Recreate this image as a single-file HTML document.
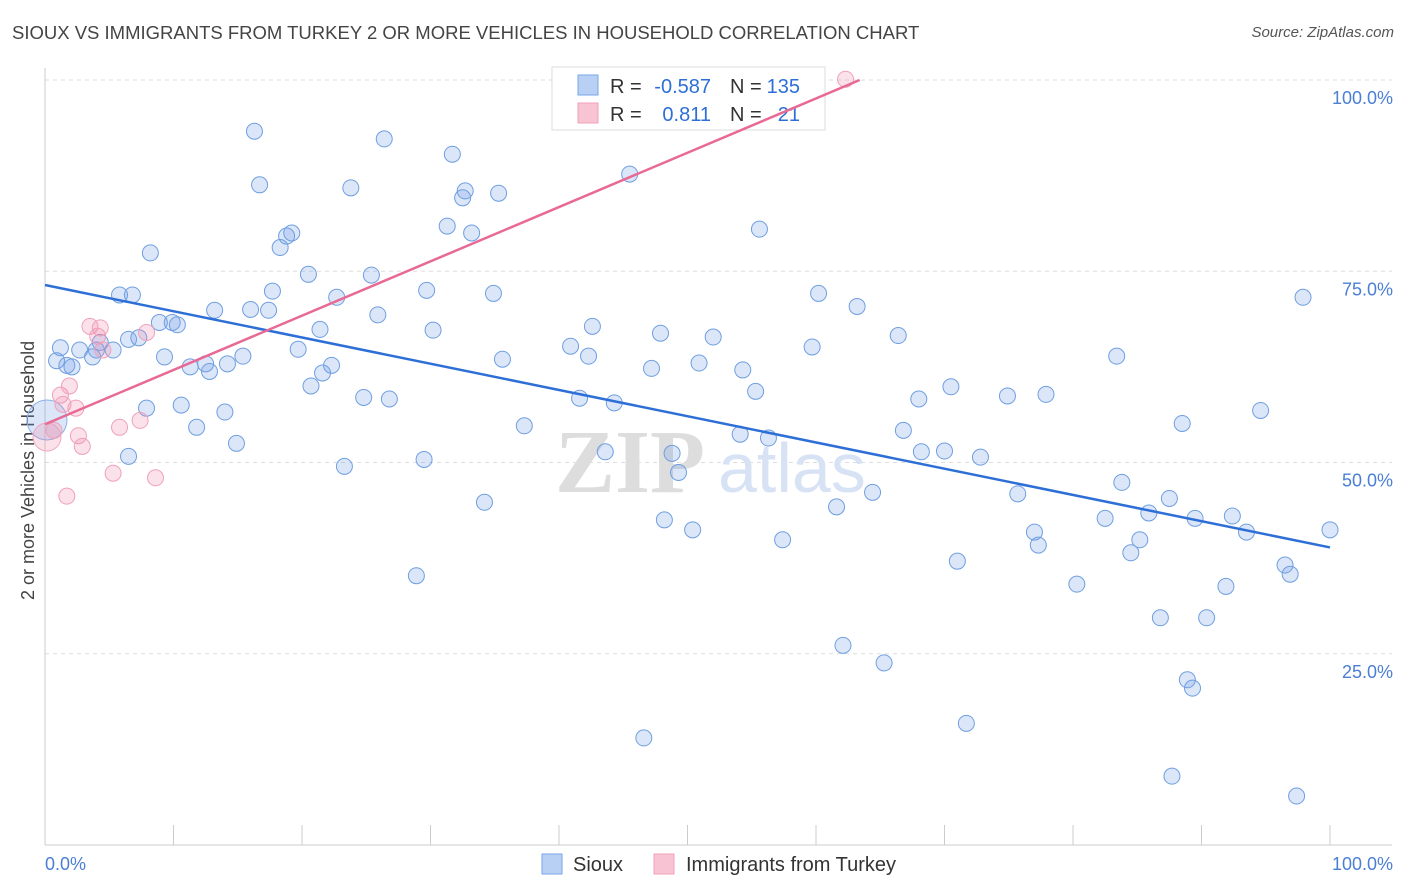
<!DOCTYPE html>
<html><head><meta charset="utf-8">
<style>
body{margin:0;background:#fff;font-family:"Liberation Sans",sans-serif;}
#wrap{position:relative;width:1406px;height:892px;overflow:hidden;}
.t{position:absolute;white-space:nowrap;}
</style></head><body>
<div id="wrap">
<div class="t" style="left:12px;top:22px;font-size:18.5px;color:#444;">SIOUX VS IMMIGRANTS FROM TURKEY 2 OR MORE VEHICLES IN HOUSEHOLD CORRELATION CHART</div>
<div class="t" style="right:12px;top:24px;font-size:15px;color:#555;font-style:italic;">Source: ZipAtlas.com</div>
<svg id="svg" width="1406" height="892" style="position:absolute;left:0;top:0"></svg>
</div>
<script>
const yTicks=[25,50,75,100];
const yTickLabels=["25.0%","50.0%","75.0%","100.0%"];
const siouxPx=[[255,131],[384,139],[452,154],[260,185],[351,188],[465,191],[498,193],[462,198],[630,174],[447,226],[472,233],[292,233],[286,236],[280,247],[760,229],[151,253],[308,274],[371,275],[120,295],[132,295],[273,291],[337,297],[427,290],[493,293],[819,293],[857,306],[1303,297],[214,310],[250,309],[269,310],[378,315],[172,322],[177,325],[159,322],[320,329],[433,330],[593,326],[661,333],[713,337],[898,335],[139,338],[61,348],[80,350],[96,350],[113,350],[129,339],[100,342],[93,357],[56,361],[67,365],[72,367],[165,357],[243,356],[298,349],[570,346],[588,356],[503,359],[812,347],[1117,356],[190,367],[205,364],[210,371],[228,364],[331,365],[322,373],[652,368],[699,363],[743,370],[311,386],[364,397],[390,399],[580,398],[614,403],[755,391],[919,399],[951,387],[1008,396],[1046,394],[1260,410],[146,408],[181,405],[225,412],[197,427],[236,443],[524,426],[740,434],[768,438],[903,430],[1182,423],[128,456],[345,466],[424,459],[605,452],[672,453],[679,472],[922,452],[944,451],[981,457],[873,492],[1122,482],[485,502],[665,520],[693,530],[782,540],[836,507],[1018,494],[1105,518],[1149,513],[1170,498],[1195,518],[1232,516],[1247,532],[1330,530],[1035,532],[1038,545],[1140,540],[1131,553],[957,561],[1285,565],[1290,574],[417,576],[1077,584],[1226,586],[1161,618],[1207,618],[843,645],[884,663],[1188,680],[1193,688],[966,723],[644,738],[1172,776],[1296,796]];
const turkeyPx=[[54,430],[60,395],[70,386],[63,404],[76,408],[79,436],[82,446],[67,496],[90,326],[100,328],[98,336],[103,350],[147,332],[120,427],[140,420],[113,473],[155,478],[845,79]];
const siouxX=siouxPx.map(p=>+((p[0]-45)/12.85).toFixed(1));
const siouxY=siouxPx.map(p=>+((845-p[1])/7.652).toFixed(1));
const turkeyX=turkeyPx.map(p=>+((p[0]-45)/12.85).toFixed(1));
const turkeyY=turkeyPx.map(p=>+((845-p[1])/7.652).toFixed(1));
const siouxTrend=[[0,73.2],[100,38.9]];
const turkeyTrend=[[0,55.0],[63.4,100]];

const X0=45,X1=1330,Y0=845,Y100=80;
const sx=v=>X0+(X1-X0)*v/100, sy=v=>Y0-(Y0-Y100)*v/100;
const svg=document.getElementById('svg');const NS='http://www.w3.org/2000/svg';
function mk(tag,attrs,name){const e=document.createElementNS(NS,tag);for(const k in attrs)e.setAttribute(k,attrs[k]);


svg.appendChild(e);return e;}
[100,75,50,25].forEach(v=>mk('line',{x1:X0,x2:1392,y1:sy(v),y2:sy(v),stroke:'#ddd','stroke-dasharray':'4,4'},'gridline'));
mk('line',{x1:X0,x2:1392,y1:Y0,y2:Y0,stroke:'#ccc'},'x-axis-line');
mk('line',{x1:X0,x2:X0,y1:68,y2:Y0,stroke:'#ccc'},'y-axis-line');
for(let i=0;i<=10;i++)mk('line',{x1:sx(i*10),x2:sx(i*10),y1:Y0-20,y2:Y0,stroke:'#ccc'},'x-tick');
yTicks.forEach((v,i)=>{const t=mk('text',{x:1393,y:sy(v)+24,'text-anchor':'end','font-size':18,fill:'#4a7fd4','font-family':'Liberation Sans'},'y-tick-label');t.textContent=yTickLabels[i];});
let t=mk('text',{x:45,y:870,'font-size':18,fill:'#4a7fd4','font-family':'Liberation Sans'},'x-min-label');t.textContent='0.0%';
t=mk('text',{x:1393,y:870,'text-anchor':'end','font-size':18,fill:'#4a7fd4','font-family':'Liberation Sans'},'x-max-label');t.textContent='100.0%';
t=mk('text',{x:0,y:0,'font-size':18,fill:'#444','font-family':'Liberation Sans',transform:'translate(34,600) rotate(-90)'},'y-axis-title');t.textContent='2 or more Vehicles in Household';
t=mk('text',{x:555,y:492,'font-size':90,fill:'#ddd','font-family':'Liberation Serif','font-weight':'bold'},'watermark-zip');t.textContent='ZIP';
t=mk('text',{x:718,y:492,'font-size':70,fill:'#d7e3f5','font-family':'Liberation Sans'},'watermark-atlas');t.textContent='atlas';
// legend box (under lines)
mk('rect',{x:552,y:67,width:273,height:63,fill:'#fff',stroke:'#ddd'},'legend-box');
mk('rect',{x:578,y:75,width:20,height:20,fill:'#b8d0f4',stroke:'#7aa6e6'},'legend-sioux-swatch');
mk('rect',{x:578,y:103,width:20,height:20,fill:'#f8c4d4',stroke:'#f0a0ba'},'legend-turkey-swatch');
function lt(x,y,s,c,name,anchor){const e=mk('text',{x:x,y:y,'font-size':20,fill:c,'font-family':'Liberation Sans','text-anchor':anchor||'start'},name);e.textContent=s;}
lt(610,93,'R =','#333','legend-r-label');lt(711,93,'-0.587','#2d6fd6','legend-sioux-r','end');
lt(730,93,'N =','#333','legend-n-label');lt(800,93,'135','#2d6fd6','legend-sioux-n','end');
lt(610,121,'R =','#333','legend-r-label');lt(711,121,'0.811','#2d6fd6','legend-turkey-r','end');
lt(730,121,'N =','#333','legend-n-label');lt(800,121,'21','#2d6fd6','legend-turkey-n','end');
mk('circle',{cx:47,cy:420,r:20,fill:'rgba(110,155,230,0.25)',stroke:'#8ab0e8'},'sioux-point-large');
mk('circle',{cx:47,cy:437,r:14,fill:'rgba(240,140,170,0.25)',stroke:'#f0a8c0'},'turkey-point-large');
siouxX.forEach((x,i)=>mk('circle',{cx:sx(x),cy:sy(siouxY[i]),r:8,fill:'rgba(110,155,230,0.25)',stroke:'#6f9fe0','stroke-width':1},'sioux-point'));
turkeyX.forEach((x,i)=>mk('circle',{cx:sx(x),cy:sy(turkeyY[i]),r:8,fill:'rgba(240,140,170,0.25)',stroke:'#f0a0ba','stroke-width':1},'turkey-point'));
mk('line',{x1:sx(siouxTrend[0][0]),y1:sy(siouxTrend[0][1]),x2:sx(siouxTrend[1][0]),y2:sy(siouxTrend[1][1]),stroke:'#2d6fd6','stroke-width':2.5},'sioux-trend-line');
mk('line',{x1:sx(turkeyTrend[0][0]),y1:sy(turkeyTrend[0][1]),x2:sx(turkeyTrend[1][0]),y2:sy(turkeyTrend[1][1]),stroke:'#e86a94','stroke-width':2.5},'turkey-trend-line');
mk('rect',{x:542,y:854,width:20,height:20,fill:'#b8d0f4',stroke:'#7aa6e6'},'bottom-legend-sioux-swatch');
lt(573,871,'Sioux','#333','bottom-legend-sioux-label');
mk('rect',{x:654,y:854,width:20,height:20,fill:'#f8c4d4',stroke:'#f0a0ba'},'bottom-legend-turkey-swatch');
lt(686,871,'Immigrants from Turkey','#333','bottom-legend-turkey-label');
</script>
</body></html>
